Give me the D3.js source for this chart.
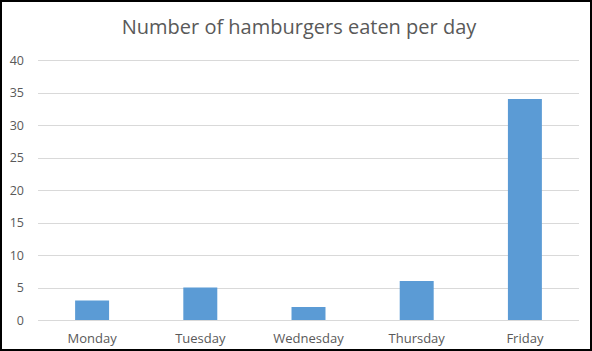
<!DOCTYPE html>
<html>
<head>
<meta charset="utf-8">
<script src="https://cdn.jsdelivr.net/npm/d3@7"></script>
<style>
  body { margin: 0; background: #fff; }
  svg { display: block; }
</style>
</head>
<body>
<div id="chart"></div>
<script>
// Chart data
const days = ['Monday', 'Tuesday', 'Wednesday', 'Thursday', 'Friday'];
const burgers = [3, 5, 2, 6, 34];
const yTicks = [0, 5, 10, 15, 20, 25, 30, 35, 40];

const width = 592;
const height = 351;
const margin = { top: 60, right: 13, bottom: 31, left: 38 };
const innerW = width - margin.left - margin.right;
const innerH = height - margin.top - margin.bottom;
const font = "'Open Sans', 'Liberation Sans', sans-serif";

const svg = d3.select('#chart')
  .append('svg')
  .attr('width', width)
  .attr('height', height);

// outer frame
svg.append('rect')
  .attr('x', 1).attr('y', 1)
  .attr('width', width - 2).attr('height', height - 2)
  .attr('fill', '#fff')
  .attr('stroke', '#000')
  .attr('stroke-width', 2);

const g = svg.append('g')
  .attr('transform', `translate(${margin.left},${margin.top})`);

const x = d3.scaleBand()
  .domain(days)
  .range([0, innerW])
  .paddingInner(0.686)
  .paddingOuter(0.343);

const y = d3.scaleLinear()
  .domain([0, 40])
  .range([innerH, 0]);

// gridlines
g.append('g')
  .selectAll('line')
  .data(yTicks)
  .enter()
  .append('line')
  .attr('x1', 0)
  .attr('x2', innerW)
  .attr('y1', d => Math.round(y(d)) + 0.5)
  .attr('y2', d => Math.round(y(d)) + 0.5)
  .attr('stroke', '#d9d9d9')
  .attr('stroke-width', 1);

// y axis labels
const yAxis = g.append('g')
  .call(d3.axisLeft(y).tickValues(yTicks).tickSize(0).tickPadding(14));
yAxis.select('.domain').remove();
yAxis.selectAll('text')
  .attr('fill', '#595959')
  .style('font-family', font)
  .style('font-size', '12.5px');

// bars
g.selectAll('rect.bar')
  .data(burgers)
  .enter()
  .append('rect')
  .attr('class', 'bar')
  .attr('x', (d, i) => x(days[i]))
  .attr('y', d => y(d))
  .attr('width', x.bandwidth())
  .attr('height', d => innerH - y(d))
  .attr('fill', '#5b9bd5');

// x axis labels
const xAxis = g.append('g')
  .attr('transform', `translate(0,${innerH})`)
  .call(d3.axisBottom(x).tickSize(0).tickPadding(14));
xAxis.select('.domain').remove();
xAxis.selectAll('text')
  .attr('fill', '#595959')
  .style('font-family', font)
  .style('font-size', '13px');

// title
svg.append('text')
  .attr('x', 299)
  .attr('y', 34)
  .attr('text-anchor', 'middle')
  .attr('fill', '#595959')
  .style('font-family', font)
  .style('font-size', '20px')
  .text('Number of hamburgers eaten per day');
</script>
</body>
</html>
